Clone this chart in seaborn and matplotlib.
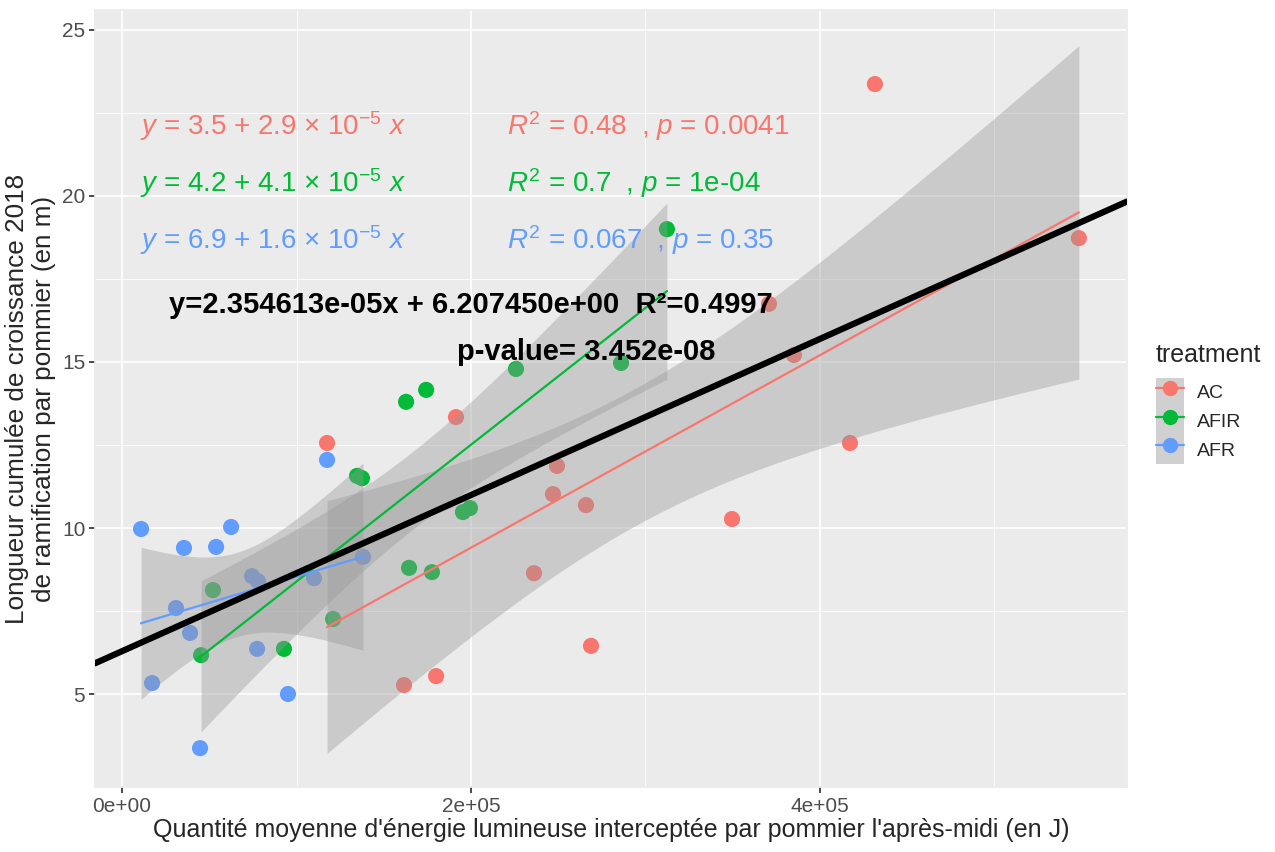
import matplotlib
matplotlib.use("Agg")
import matplotlib.pyplot as plt
import numpy as np
import pandas as pd
import seaborn as sns
from matplotlib.lines import Line2D
from matplotlib.patches import Patch

# data (x in J, y in m)
AC_X = [117500, 191400, 249300, 247000, 265900, 236100, 268800, 161600, 180000,
        349600, 417200, 431500, 548400, 370800, 385100]
AC_Y = [12.56, 13.34, 11.87, 11.02, 10.69, 8.64, 6.45, 5.27, 5.54,
        10.27, 12.56, 23.37, 18.73, 16.75, 15.21]
AFIR_X = [45300, 52100, 92800, 121000, 134700, 137500, 162800, 174300, 164500,
          177600, 195400, 199400, 225800, 286000, 312300]
AFIR_Y = [6.17, 8.13, 6.36, 7.26, 11.57, 11.5, 13.8, 14.16, 8.8,
          8.67, 10.48, 10.6, 14.79, 14.97, 19.0]
AFR_X = [10900, 35500, 53900, 62500, 30900, 39000, 17200, 44700, 74500,
         77900, 77400, 95100, 110000, 117500, 138100]
AFR_Y = [9.97, 9.4, 9.43, 10.03, 7.59, 6.84, 5.33, 3.37, 8.55,
         8.4, 6.36, 5.0, 8.49, 12.05, 9.13]

TREATMENTS = ["AC", "AFIR", "AFR"]
COLORS = {"AC": "#F8766D", "AFIR": "#00BA38", "AFR": "#619CFF"}

EQ_LABELS = [r"$y$ = 3.5 + 2.9 $\times$ 10$^{-5}$ $x$",
             r"$y$ = 4.2 + 4.1 $\times$ 10$^{-5}$ $x$",
             r"$y$ = 6.9 + 1.6 $\times$ 10$^{-5}$ $x$"]
STAT_LABELS = [r"$R^2$ = 0.48  , $p$ = 0.0041",
               r"$R^2$ = 0.7  , $p$ = 1e-04",
               r"$R^2$ = 0.067  , $p$ = 0.35"]
GLOBAL_EQ = "y=2.354613e-05x + 6.207450e+00  R²=0.4997"
GLOBAL_P = "p-value= 3.452e-08"

T975 = 2.160369  # t quantile, df = 13 (15 points per group)

df = pd.DataFrame({
    "x": AC_X + AFIR_X + AFR_X,
    "y": AC_Y + AFIR_Y + AFR_Y,
    "treatment": ["AC"] * len(AC_X) + ["AFIR"] * len(AFIR_X) + ["AFR"] * len(AFR_X),
})

sns.set_theme(style="darkgrid", rc={
    "axes.facecolor": "#EBEBEB",
    "grid.color": "white",
    "axes.edgecolor": "#EBEBEB",
})
plt.rcParams["font.family"] = ["Liberation Sans", "DejaVu Sans"]
plt.rcParams["mathtext.fontset"] = "custom"
plt.rcParams["mathtext.rm"] = "Liberation Sans"
plt.rcParams["mathtext.it"] = "Liberation Sans:italic"


def conf_band(x, y, n=80):
    x = np.asarray(x, float)
    y = np.asarray(y, float)
    slope, icpt = np.polyfit(x, y, 1)
    xs = np.linspace(x.min(), x.max(), n)
    resid = y - (icpt + slope * x)
    s = np.sqrt((resid ** 2).sum() / (len(x) - 2))
    se = s * np.sqrt(1 / len(x) + (xs - x.mean()) ** 2 / ((x - x.mean()) ** 2).sum())
    yhat = icpt + slope * xs
    return xs, yhat - T975 * se, yhat + T975 * se


fig = plt.figure(figsize=(12.75, 8.52), dpi=100)
ax = fig.add_axes([95 / 1275, 1 - 787 / 852, (1127 - 95) / 1275, (787 - 10) / 852])

ax.set_xlim(-15500, 576000)
ax.set_ylim(2.2, 25.6)

sns.scatterplot(data=df, x="x", y="y", hue="treatment", palette=COLORS,
                hue_order=TREATMENTS, s=135, linewidth=0, ax=ax, legend=False, zorder=3)

for t in TREATMENTS:
    sub = df[df["treatment"] == t]
    xs, lo, hi = conf_band(sub["x"], sub["y"])
    ax.fill_between(xs, lo, hi, color="#999999", alpha=0.4, linewidth=0, zorder=4)
    sns.regplot(data=sub, x="x", y="y", scatter=False, ci=None,
                color=COLORS[t], line_kws={"lw": 1.6, "zorder": 5}, ax=ax)

sns.regplot(data=df, x="x", y="y", scatter=False, ci=None, truncate=False,
            color="black", line_kws={"lw": 4.5, "zorder": 6}, ax=ax)

# grid like ggplot: major + minor
ax.set_xticks([0, 200000, 400000])
ax.set_xticklabels(["0e+00", "2e+05", "4e+05"])
ax.set_yticks([5, 10, 15, 20, 25])
ax.set_xticks([100000, 300000, 500000], minor=True)
ax.set_yticks([7.5, 12.5, 17.5, 22.5], minor=True)
ax.grid(which="major", color="white", lw=1.2)
ax.grid(which="minor", color="white", lw=0.6)
ax.tick_params(which="major", length=4, color="#333333", labelsize=15, labelcolor="#4D4D4D",
               bottom=True, left=True, pad=3)
ax.tick_params(which="minor", length=0)
ax.set_xlabel("Quantité moyenne d'énergie lumineuse interceptée par pommier l'après-midi (en J)",
              fontsize=18, labelpad=2)
ax.set_ylabel("Longueur cumulée de croissance 2018\nde ramification par pommier (en m)",
              fontsize=18.8, labelpad=4)
ax.set_xlim(-15500, 576000)
ax.set_ylim(2.2, 25.6)

rows_y = [22.1, 20.4, 18.67]
for i, t in enumerate(TREATMENTS):
    ax.text(10300, rows_y[i], EQ_LABELS[i], color=COLORS[t], fontsize=20,
            ha="left", va="center", zorder=8)
    ax.text(220600, rows_y[i], STAT_LABELS[i], color=COLORS[t], fontsize=20,
            ha="left", va="center", zorder=8)

ax.text(200000, 16.72, GLOBAL_EQ, color="black", fontsize=21, fontweight="bold",
        ha="center", va="center", zorder=8)
ax.text(266000, 15.3, GLOBAL_P, color="black", fontsize=21, fontweight="bold",
        ha="center", va="center", zorder=8)

handles = [(Patch(facecolor="#D0D0D0", edgecolor="none"),
            Line2D([0], [0], color=COLORS[t], lw=1.6, marker="o", markersize=11,
                   markeredgewidth=0)) for t in TREATMENTS]
leg = fig.legend(handles, TREATMENTS, title="treatment", loc="upper left",
                 bbox_to_anchor=(1138 / 1275, 1 - 325 / 852), frameon=False,
                 fontsize=14, title_fontsize=18, handlelength=1.45, handleheight=1.9,
                 labelspacing=0.0, handletextpad=0.7, alignment="left")
leg._legend_box.sep = 8

fig.savefig("out.png", dpi=100, facecolor="white")
